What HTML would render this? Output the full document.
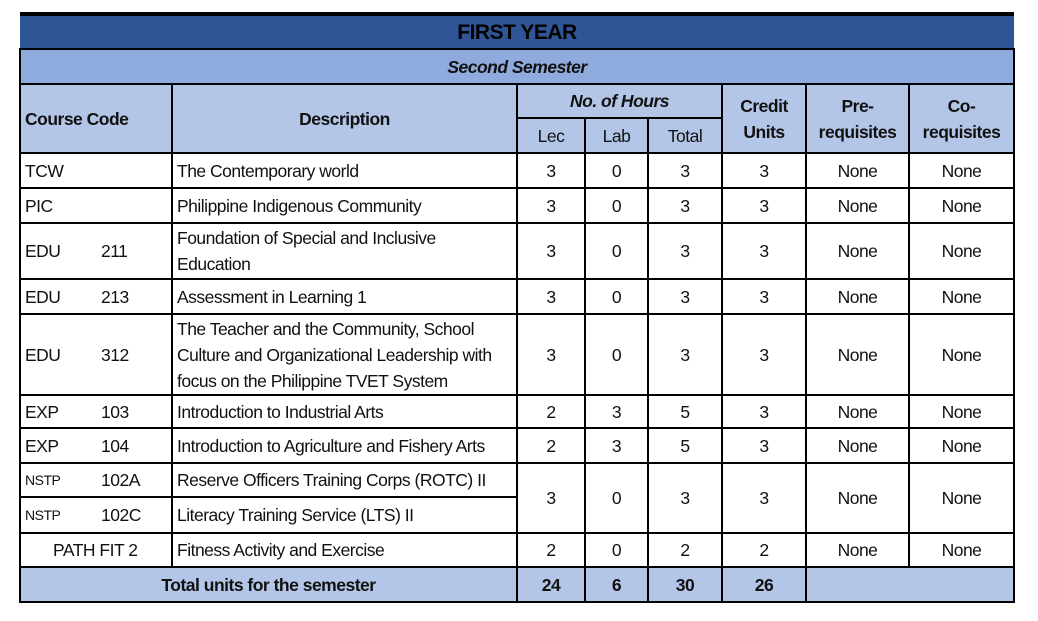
<!DOCTYPE html>
<html><head><meta charset="utf-8"><style>
body{margin:0;width:1038px;height:621px;background:#fff;position:relative;overflow:hidden;font-family:"Liberation Sans",Arial,sans-serif;}
.c{position:absolute;box-sizing:border-box;border:2px solid #000;display:flex;align-items:center;font-size:17.5px;letter-spacing:-0.5px;color:#111;line-height:26px;padding:0 4px;white-space:nowrap;}
.ctr{justify-content:center;text-align:center;}
.b{font-weight:bold;}
.i{font-style:italic;}
</style></head><body>
<div id="t"></div>
<script>
const X=[20,172,517,585,648,722,806,909,1014];
const rowY=[153,188,223,279,314,395,428,463,497,533,567,602];
const codes=[["TCW",""],["PIC",""],["EDU","211"],["EDU","213"],["EDU","312"],["EXP","103"],["EXP","104"],["NSTP","102A"],["NSTP","102C"],["PATH FIT 2",""]];
const descs=["The Contemporary world","Philippine Indigenous Community","Foundation of Special and Inclusive<br>Education","Assessment in Learning 1","The Teacher and the Community, School<br>Culture and Organizational Leadership with<br>focus on the Philippine TVET System","Introduction to Industrial Arts","Introduction to Agriculture and Fishery Arts","Reserve Officers Training Corps (ROTC) II","Literacy Training Service (LTS) II","Fitness Activity and Exercise"];
const lec=[3,3,3,3,3,2,2,3,null,2];
const lab=[0,0,0,0,0,3,3,0,null,0];
const tot=[3,3,3,3,3,5,5,3,null,2];
const cred=[3,3,3,3,3,3,3,3,null,2];
const totals=[24,6,30,26];
const t=document.getElementById('t');
function cell(x1,y1,x2,y2,html,cls,bg,name){
 const d=document.createElement('div');
 d.className='c '+(cls||'');
 d.style.left=(x1-1)+'px';d.style.top=(y1-1)+'px';
 d.style.width=(x2-x1+2)+'px';d.style.height=(y2-y1+2)+'px';
 if(bg)d.style.background=bg;
 d.innerHTML=html;
 
 
 t.appendChild(d);return d;
}
const bar=document.createElement('div');
bar.style.cssText='position:absolute;left:20px;top:12px;width:994px;height:5px;background:#000';


t.appendChild(bar);
const yr=document.createElement('div');
yr.style.cssText='position:absolute;left:20px;top:16px;width:994px;height:33px;background:#2F5597;display:flex;align-items:center;justify-content:center;font-weight:bold;font-size:21px;letter-spacing:-0.5px;color:#000';
yr.textContent='FIRST YEAR';


t.appendChild(yr);
const HB='#B4C6E7';
cell(20,49,1014,84,'Second Semester','ctr b i','#8FAADC','semester-title');
cell(X[0],84,X[1],153,'Course Code','b',HB,'course-code-header');
cell(X[1],84,X[2],153,'Description','ctr b',HB,'description-header');
cell(X[2],84,X[5],118,'No. of Hours','ctr b i',HB,'hours-header');
cell(X[2],118,X[3],153,'Lec','ctr',HB,'lec-header');
cell(X[3],118,X[4],153,'Lab','ctr',HB,'lab-header');
cell(X[4],118,X[5],153,'Total','ctr',HB,'total-header');
cell(X[5],84,X[6],153,'Credit<br>Units','ctr b',HB,'credit-units-header');
cell(X[6],84,X[7],153,'Pre-<br>requisites','ctr b',HB,'prerequisites-header');
cell(X[7],84,X[8],153,'Co-<br>requisites','ctr b',HB,'corequisites-header');
for(let i=0;i<codes.length;i++){
 const y1=rowY[i],y2=rowY[i+1];
 const [a,b]=codes[i];
 let ch;
 if(b==='' && a.indexOf(' ')>0) ch='<span style="padding-left:28px">'+a+'</span>';
 else ch='<span style="display:inline-block;width:76px;'+(a==='NSTP'?'font-size:14px':'')+'">'+a+'</span>'+b;
 cell(X[0],y1,X[1],y2,ch,'','#fff','course-code-cell');
 cell(X[1],y1,X[2],y2,descs[i],'','#fff','description-cell');
 if(i===8)continue;
 const ye=(i===7)?rowY[9]:y2;
 cell(X[2],y1,X[3],ye,lec[i],'ctr','#fff','lec-cell');
 cell(X[3],y1,X[4],ye,lab[i],'ctr','#fff','lab-cell');
 cell(X[4],y1,X[5],ye,tot[i],'ctr','#fff','total-cell');
 cell(X[5],y1,X[6],ye,cred[i],'ctr','#fff','credit-cell');
 cell(X[6],y1,X[7],ye,'None','ctr','#fff','prerequisite-cell');
 cell(X[7],y1,X[8],ye,'None','ctr','#fff','corequisite-cell');
}
cell(X[0],567,X[2],602,'Total units for the semester','ctr b',HB,'total-units-label');
for(let k=0;k<4;k++) cell(X[2+k],567,X[3+k],602,totals[k],'ctr b',HB,'total-units-value');
cell(X[6],567,X[8],602,'','',HB,'total-empty-cell');
</script>
</body></html>
